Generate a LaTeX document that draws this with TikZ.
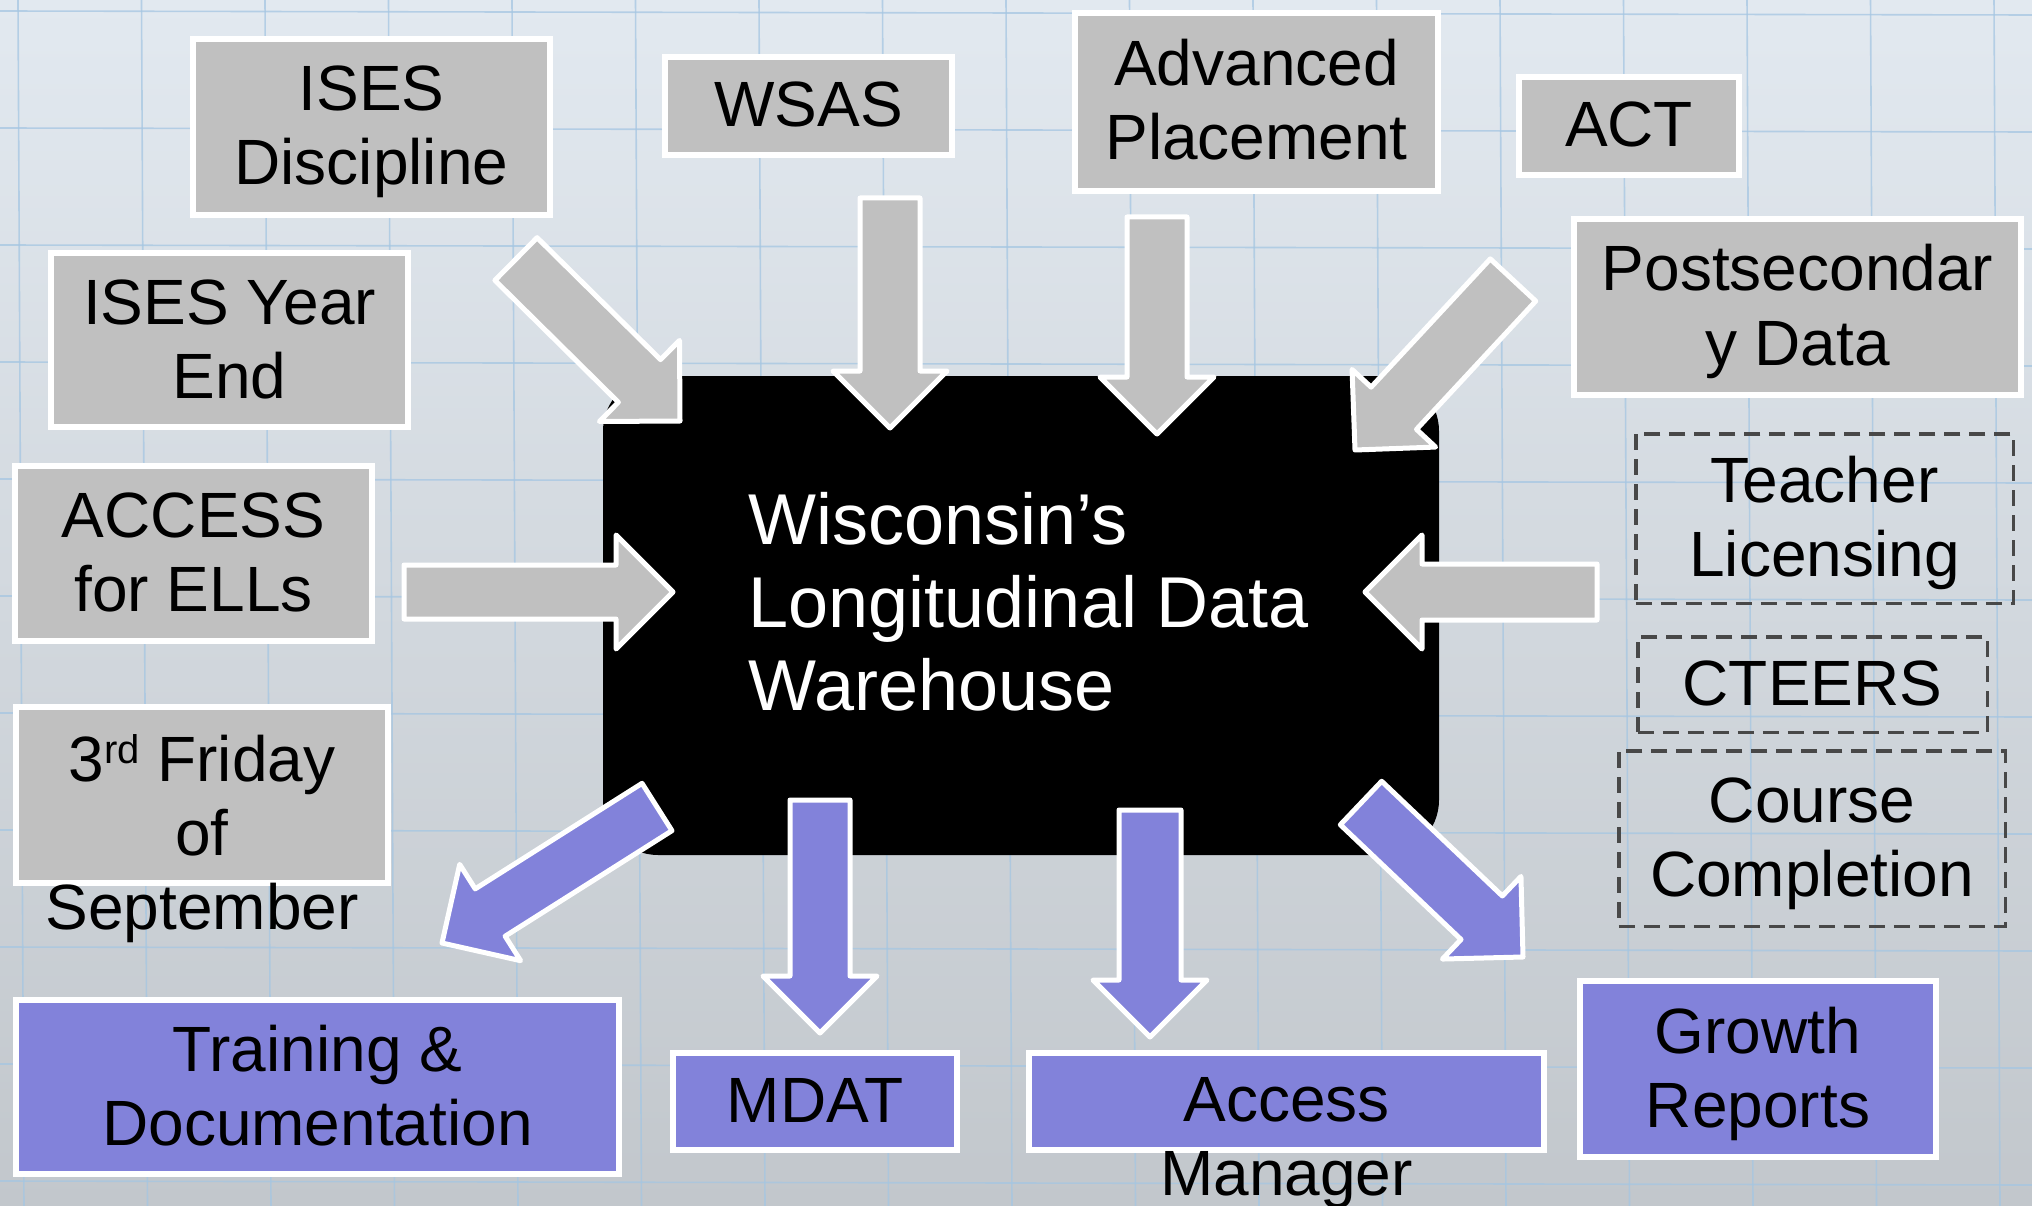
\documentclass[tikz,border=0pt]{standalone}
\usepackage{fontspec}
\setmainfont{Liberation Sans}
\usetikzlibrary{calc}
\definecolor{boxgray}{RGB}{192,192,192}
\definecolor{boxpurple}{RGB}{130,130,218}
\definecolor{dashgray}{RGB}{72,72,72}
\definecolor{gridblue}{RGB}{165,198,226}
\definecolor{bgtop}{RGB}{226,233,240}
\definecolor{bgbot}{RGB}{194,199,204}
\newcommand\ls{\rule[-16pt]{0pt}{74pt}}
\newcommand\lc{\rule[-29.5pt]{0pt}{83pt}\hspace*{16pt}}
\newcommand\blockarrow[4]{%
  \coordinate (bab) at ($(#3)!57pt!(#2)$);
  \draw[#1] ($(#2)!#4!90:(#3)$) -- ($(bab)!#4!90:(#3)$) -- ($(bab)!57pt!90:(#3)$) -- (#3)
     -- ($(bab)!57pt!-90:(#3)$) -- ($(bab)!#4!-90:(#3)$) -- ($(#2)!#4!-90:(#3)$) -- cycle;}
\tikzset{
  boxbase/.style={rectangle, inner sep=0pt, align=center, text=black,
    font=\fontsize{64}{74}\selectfont},
  gbox/.style={boxbase, draw=white, line width=6pt, fill=boxgray},
  pbox/.style={boxbase, draw=white, line width=6pt, fill=boxpurple},
  dbox/.style={boxbase, draw=dashgray, line width=3.5pt, dash pattern=on 16pt off 9pt},
  ovtext/.style={inner sep=0pt, align=center, text=black, anchor=north,
    font=\fontsize{64}{74}\selectfont},
  garrow/.style={fill=boxgray, draw=white, line width=5pt, line join=round},
  parrow/.style={fill=boxpurple, draw=white, line width=5pt, line join=round},
  gridline/.style={draw=gridblue, line width=1.6pt, opacity=0.75}
}
\begin{document}
\begin{tikzpicture}[x=1pt, y=-1pt]
\useasboundingbox (0,0) rectangle (2032,1206);
% background
\fill[top color=bgtop, bottom color=bgbot] (0,0) rectangle (2032,1206);
\foreach \gx in {18,141.5,...,2032} \draw[gridline] (\gx,0) -- (\gx+6,1206);
\foreach \gy in {11,128,...,1206} \draw[gridline] (0,\gy) -- (2032,\gy+4);

% source boxes
\node[gbox, minimum width=357pt, minimum height=176pt] (disc) at (371.5,127) {\ls ISES\\\ls Discipline};
\node[gbox, minimum width=287pt, minimum height=98pt] (wsas) at (808.5,106) {\ls WSAS};
\node[gbox, minimum width=363pt, minimum height=178pt] (ap) at (1256.5,102) {\ls Advanced\\\ls Placement};
\node[gbox, minimum width=220pt, minimum height=98pt] (act) at (1629,126) {\ls ACT};
\node[gbox, minimum width=447pt, minimum height=176pt] (post) at (1797.5,307) {\ls Postsecondar\\\ls y Data};
\node[gbox, minimum width=357pt, minimum height=174pt] (yend) at (229.5,340) {\ls ISES Year\\\ls End};
\node[gbox, minimum width=357pt, minimum height=175pt] (access) at (193.5,553.5) {\ls ACCESS\\\ls for ELLs};
\node[gbox, minimum width=372pt, minimum height=176pt] (fri) at (202,795) {};
\node[ovtext] (fritext) at ([yshift=-19pt]fri.north) {\ls 3\raisebox{18pt}{\fontsize{40}{40}\selectfont rd} Friday\\\ls of\\\ls September};

% dashed boxes
\node[dbox, minimum width=377.5pt, minimum height=169.5pt] (tl) at (1824.5,518.5) {\ls Teacher\\\ls Licensing};
\node[dbox, minimum width=349.5pt, minimum height=95.5pt] (ct) at (1812.5,684.5) {\ls CTEERS};
\node[dbox, minimum width=386.5pt, minimum height=175.5pt] (cc) at (1812,838.5) {\ls Course\\\ls Completion};

% output boxes
\node[pbox, minimum width=603pt, minimum height=174pt] (train) at (317.5,1087) {\ls Training \&\\\ls Documentation};
\node[pbox, minimum width=284pt, minimum height=97pt] (mdat) at (815,1101.5) {\ls MDAT};
\node[pbox, minimum width=515pt, minimum height=97pt] (accm) at (1286.5,1101.5) {};
\node[ovtext] (accmtext) at ([yshift=-13pt]accm.north) {\ls Access\\\ls Manager};
\node[pbox, minimum width=356pt, minimum height=176pt] (growth) at (1758,1069) {\ls Growth\\\ls Reports};

% central warehouse
\node[rectangle, rounded corners=55pt, fill=black, minimum width=836pt, minimum height=479pt,
  inner sep=0pt, align=left, text=white, font=\fontsize{72}{83}\selectfont] (ldw) at (1021,615.5)
  {\lc Wisconsin’s\\\lc Longitudinal Data\\\lc Warehouse};

% arrow end points
\coordinate (a1s) at (516,259);   \coordinate (a1e) at (680,421);
\coordinate (a2s) at (890,198);   \coordinate (a2e) at (890,428);
\coordinate (a3s) at (1157,217);  \coordinate (a3e) at (1157,434);
\coordinate (a4s) at (1513,280);  \coordinate (a4e) at (1355,450);
\coordinate (a5s) at (404,592);   \coordinate (a5e) at (673,592);
\coordinate (a6s) at (1597,592);  \coordinate (a6e) at (1365,592);
\coordinate (b1s) at (657,807);   \coordinate (b1e) at (442,943);
\coordinate (b2s) at (820,800);   \coordinate (b2e) at (820,1033);
\coordinate (b3s) at (1150,810);  \coordinate (b3e) at (1150,1037);
\coordinate (b4s) at (1361,803);  \coordinate (b4e) at (1523,957);

\blockarrow{garrow}{a1s}{a1e}{30pt}
\blockarrow{garrow}{a2s}{a2e}{30pt}
\blockarrow{garrow}{a3s}{a3e}{30pt}
\blockarrow{garrow}{a4s}{a4e}{31pt}
\blockarrow{garrow}{a5s}{a5e}{27pt}
\blockarrow{garrow}{a6s}{a6e}{28pt}
\blockarrow{parrow}{b1s}{b1e}{28pt}
\blockarrow{parrow}{b2s}{b2e}{30pt}
\blockarrow{parrow}{b3s}{b3e}{31pt}
\blockarrow{parrow}{b4s}{b4e}{30pt}
\end{tikzpicture}
\end{document}
